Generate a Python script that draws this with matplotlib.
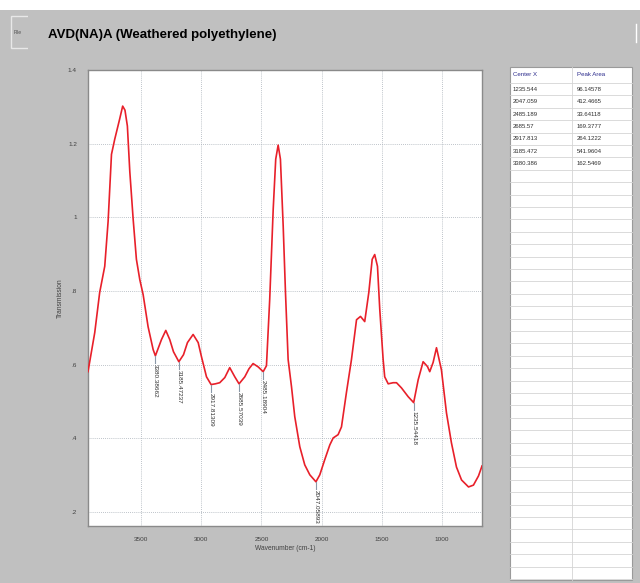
import matplotlib
matplotlib.use("Agg")
import matplotlib.pyplot as plt
from matplotlib.patches import Rectangle
import numpy as np

plt.rcParams['font.family'] = ['Liberation Sans', 'DejaVu Sans']

# IR spectrum of weathered polyethylene (wavenumber in cm-1, transmission)
wavenumber = [3940, 3884, 3843, 3801, 3773, 3745, 3718, 3677, 3652, 3633,
              3613, 3593, 3565, 3538, 3510, 3482, 3441, 3399, 3380.4, 3330,
              3294, 3261, 3230, 3185.5, 3147, 3114, 3067, 3025, 2998, 2956,
              2917.8, 2882, 2846, 2804, 2763, 2721, 2685.6, 2638, 2603, 2569,
              2527, 2485.2, 2458, 2431, 2402, 2381, 2361, 2342, 2319, 2300,
              2278, 2250, 2223, 2181, 2140, 2098, 2047.1, 2015, 1974, 1932,
              1904, 1863, 1835, 1794, 1752, 1710, 1677, 1642, 1608, 1580,
              1559, 1536, 1517, 1489, 1476, 1447, 1406, 1378, 1337, 1281,
              1235.5, 1198, 1157, 1121, 1102, 1074, 1046, 1005, 963, 922,
              880, 838, 780, 739, 697, 668]
transmission = [0.581, 0.687, 0.796, 0.867, 0.989, 1.171, 1.212, 1.267, 1.302, 1.291,
                1.248, 1.125, 0.995, 0.886, 0.831, 0.790, 0.703, 0.641, 0.624, 0.668,
                0.693, 0.668, 0.635, 0.608, 0.627, 0.660, 0.682, 0.660, 0.622, 0.567,
                0.546, 0.548, 0.551, 0.565, 0.592, 0.567, 0.548, 0.567, 0.589, 0.603,
                0.594, 0.581, 0.597, 0.777, 1.022, 1.158, 1.196, 1.158, 0.976, 0.796,
                0.614, 0.540, 0.459, 0.377, 0.328, 0.301, 0.282, 0.301, 0.342, 0.382,
                0.401, 0.410, 0.431, 0.524, 0.614, 0.722, 0.731, 0.717, 0.796, 0.886,
                0.899, 0.867, 0.750, 0.614, 0.567, 0.548, 0.551, 0.551, 0.537, 0.513,
                0.497, 0.559, 0.608, 0.595, 0.581, 0.606, 0.646, 0.586, 0.469, 0.388,
                0.322, 0.287, 0.268, 0.273, 0.298, 0.325]

# Peak picks marked on the spectrum
peak_labels = ["3380.38662", "3185.47237", "2917.81309", "2685.57039",
               "2485.18904", "2047.05893", "1235.54418"]

# Peak table
center_x = ["1235.544", "2047.059", "2485.189", "2685.57", "2917.813",
            "3185.472", "3380.386"]
peak_area = ["96.14578", "412.4665", "33.64118", "169.3777", "264.1222",
             "541.9604", "162.5469"]

x_ticks = [3500, 3000, 2500, 2000, 1500, 1000]
x_tick_labels = ["3500", "3000", "2500", "2000", "1500", "1000"]
y_ticks = [0.2, 0.4, 0.6, 0.8, 1.0, 1.2, 1.4]
y_tick_labels = [".2", ".4", ".6", ".8", "1", "1.2", "1.4"]

W, H = 640, 583
fig = plt.figure(figsize=(W / 100, H / 100), dpi=100)
fig.patch.set_facecolor('#c0c0c0')

# ---- window chrome, drawn in pixel coordinates ----
bg = fig.add_axes([0, 0, 1, 1], zorder=0)
bg.set_xlim(0, W)
bg.set_ylim(H, 0)
bg.axis('off')
bg.add_patch(Rectangle((0, 0), W, 10, facecolor='white', edgecolor='none'))
# "File" button, partly hidden behind the title panel
bg.add_patch(Rectangle((11, 16), 30, 32, facecolor='#c0c0c0',
                       edgecolor='#e8e8e8', linewidth=1.0, zorder=1))
bg.text(14, 33, "File", fontsize=3.6, color='#505050', va='center', zorder=2)
bg.add_patch(Rectangle((28, 10), 607, 47, facecolor='#c0c0c0',
                       edgecolor='none', zorder=3))
bg.plot([636, 636], [24, 42], color='white', linewidth=1.0, zorder=4)
bg.text(48, 35, "AVD(NA)A (Weathered polyethylene)", fontsize=9.5,
        fontweight='bold', color='black', va='center', ha='left', zorder=5)

# ---- peak table ----
tx0, tx1, tdiv = 510, 632, 572
ty0, ty1 = 67, 580
head_h, row_h = 16, 12.4
bg.add_patch(Rectangle((tx0, ty0), tx1 - tx0, ty1 - ty0, facecolor='white',
                       edgecolor='#9a9a9a', linewidth=0.8, zorder=2))
n_rows = int((ty1 - ty0 - head_h) // row_h)
for i in range(n_rows + 1):
    yy = ty0 + head_h + i * row_h
    bg.plot([tx0, tx1], [yy, yy], color='#d4d4d4', linewidth=0.6, zorder=3)
bg.plot([tdiv, tdiv], [ty0, ty1], color='#d4d4d4', linewidth=0.6, zorder=3)
bg.text(tx0 + 3, ty0 + head_h / 2, "Center X", fontsize=4.4, color='#2b2b8c',
        va='center', zorder=4)
bg.text(tdiv + 5, ty0 + head_h / 2, "Peak Area", fontsize=4.4, color='#2b2b8c',
        va='center', zorder=4)
for i, (cx, pa) in enumerate(zip(center_x, peak_area)):
    yy = ty0 + head_h + (i + 0.5) * row_h
    bg.text(tx0 + 3, yy, cx, fontsize=4.3, color='#303030', va='center', zorder=4)
    bg.text(tdiv + 5, yy, pa, fontsize=4.3, color='#303030', va='center', zorder=4)

# ---- spectrum plot ----
ax = fig.add_axes([88 / W, 1 - 526 / H, 394 / W, 456 / H], zorder=2)
ax.set_facecolor('white')
ax.plot(wavenumber, transmission, color='#e8202a', linewidth=1.2, zorder=3)
ax.set_xlim(3940, 668)
ax.set_ylim(0.162, 1.40)

ax.set_xticks(x_ticks)
ax.set_xticklabels(x_tick_labels)
ax.set_yticks(y_ticks)
ax.set_yticklabels(y_tick_labels)
ax.tick_params(axis='both', labelsize=4.6, labelcolor='#404040', length=0,
               pad=8)
ax.grid(True, linestyle=(0, (1, 1.5)), color='#a8b0b8', linewidth=0.6)
for sp in ax.spines.values():
    sp.set_color('#8a8a8a')
    sp.set_linewidth(1.0)
ax.set_xlabel("Wavenumber (cm-1)", fontsize=4.8, color='#404040', labelpad=2)
ax.set_ylabel("Transmission", fontsize=4.8, color='#404040', labelpad=3)

# peak markers: short drop line plus the rotated position label
for lab in peak_labels:
    pos = float(lab)
    val = float(np.interp(pos, wavenumber[::-1], transmission[::-1]))
    ax.plot([pos, pos], [val, val - 0.02], color='#8a98a8', linewidth=0.8, zorder=4)
    ax.text(pos, val - 0.022, lab, rotation=-90, fontsize=4.6, color='#303030',
            ha='center', va='top', zorder=5)

fig.savefig("out.png", dpi=100, facecolor=fig.get_facecolor())
